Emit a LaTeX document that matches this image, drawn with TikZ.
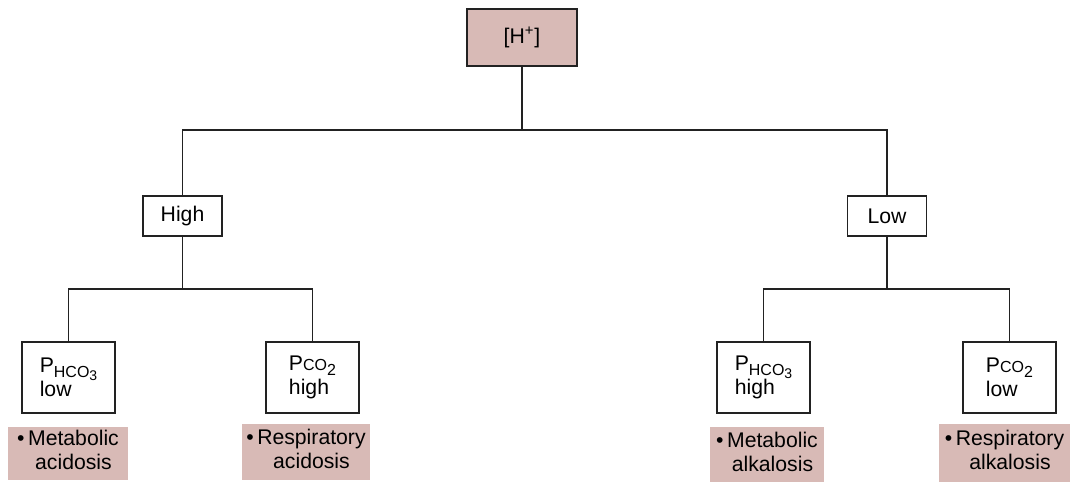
\documentclass[tikz,border=0pt]{standalone}
\usepackage{fontspec}
\setmainfont{Liberation Sans}
\definecolor{pinkfill}{RGB}{216,186,182}
\definecolor{linec}{RGB}{34,34,34}
\newcommand{\phco}{P\raisebox{-0.45ex}{\footnotesize HCO\raisebox{-0.35ex}{\scriptsize 3}}}
\newcommand{\pco}{P{\footnotesize CO}\raisebox{-0.45ex}{\footnotesize 2}}
\newcommand{\twoline}[2]{\textbullet\,\begin{tabular}[t]{@{}c@{}}#1\\#2\end{tabular}}
\begin{document}
\begin{tikzpicture}[x=0.5pt,y=-0.5pt,
  every node/.style={font=\fontsize{10.6pt}{12pt}\selectfont, inner sep=0pt, outer sep=0pt},
  box/.style={draw=linec, line width=0.6pt, fill=white},
  topbox/.style={draw=linec, line width=0.6pt, fill=pinkfill, minimum width=55pt, minimum height=28.5pt},
  midbox/.style={box, minimum width=39.5pt, minimum height=20pt},
  leafbox/.style={box, minimum width=46.5pt, minimum height=35.5pt, align=left},
  result/.style={fill=pinkfill, minimum height=26.5pt},
  conn/.style={draw=linec, line width=0.6pt}
]
\useasboundingbox (0,0) rectangle (1082,483);
\renewcommand{\arraystretch}{1.0}
\node[topbox] (top) at (522,37.5) {[H\textsuperscript{+}]};
\node[midbox] (hi) at (182.5,216) {High};
\node[midbox] (lo) at (887,216) {Low};
\node[leafbox] (l1) at (68.5,377.5) {\phco\\low};
\node[leafbox] (l2) at (312.5,377.5) {\pco\\high};
\node[leafbox] (l3) at (763.5,377.5) {\phco\\high};
\node[leafbox] (l4) at (1009.5,377.5) {\pco\\low};
\node[result, minimum width=60pt] (r1) at (68,453) {\twoline{Metabolic}{acidosis}};
\node[result, minimum width=64pt, minimum height=28pt] (r2) at (306,452) {\twoline{Respiratory}{acidosis}};
\node[result, minimum width=57pt, minimum height=27.5pt] (r3) at (767,454.5) {\twoline{Metabolic}{alkalosis}};
\node[result, minimum width=65.5pt, minimum height=29pt] (r4) at (1004.5,453) {\twoline{Respiratory}{alkalosis}};
\coordinate (j0) at (522,130);
\coordinate (j1) at (182.5,289);
\coordinate (j2) at (887,289);
\draw[conn] (top.south) -- (j0);
\draw[conn] (hi.north) |- (j0) -| (lo.north);
\draw[conn] (hi.south) -- (j1);
\draw[conn] (l1.north) |- (j1) -| (l2.north);
\draw[conn] (lo.south) -- (j2);
\draw[conn] (l3.north) |- (j2) -| (l4.north);
\end{tikzpicture}
\end{document}
